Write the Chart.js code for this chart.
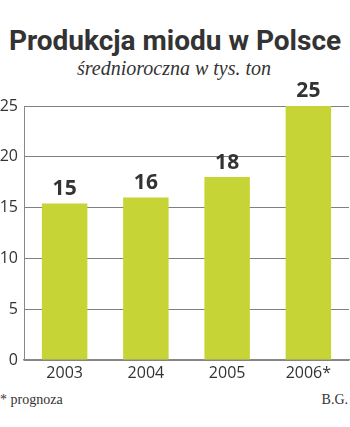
<!DOCTYPE html>
<html>
<head>
<meta charset="utf-8">
<script src="https://cdn.jsdelivr.net/npm/chart.js@4.4.1/dist/chart.umd.min.js"></script>
<style>
  html, body { margin: 0; padding: 0; background: #fff; }
  body { width: 350px; height: 427px; position: relative; overflow: hidden; color: #333; }
  #title { position: absolute; left: 0; top: 24px; width: 350px; text-align: center;
    font: bold 28px Roboto, sans-serif; color: #333; white-space: nowrap; }
  #subtitle { position: absolute; left: 0; top: 57px; width: 348px; text-align: center;
    font: italic 20px "Liberation Serif", serif; color: #333; white-space: nowrap; }
  #wrap { position: absolute; left: 0; top: 80px; width: 350px; height: 310px; }
  .note { position: absolute; top: 392px; font: 14px "Liberation Serif", serif; color: #333; }
</style>
</head>
<body>
<div id="title">Produkcja miodu w Polsce</div>
<div id="subtitle">średnioroczna w tys. ton</div>
<div id="wrap"><canvas id="honey"></canvas></div>
<div class="note" style="left:0">* prognoza</div>
<div class="note" style="right:2px">B.G.</div>
<script>
// Data
const years = ["2003", "2004", "2005", "2006*"];
const production = [15.4, 16, 18, 25];
const shownLabels = ["15", "16", "18", "25"];
const yTicks = [0, 5, 10, 15, 20, 25];

// Draw the value above each bar
const barLabels = {
  id: "barLabels",
  afterDatasetsDraw(chart) {
    const ctx = chart.ctx;
    const meta = chart.getDatasetMeta(0);
    ctx.save();
    ctx.font = "bold 21px 'Open Sans', sans-serif";
    ctx.fillStyle = "#333";
    ctx.textAlign = "center";
    ctx.textBaseline = "bottom";
    meta.data.forEach((bar, i) => {
      ctx.fillText(shownLabels[i], bar.x, bar.y - 4);
    });
    ctx.restore();
  },
};

const ctxHoney = document.getElementById("honey").getContext("2d");

const honey = new Chart(ctxHoney, {
  type: "bar",
  data: {
    labels: years,
    datasets: [
      {
        data: production,
        backgroundColor: "#c6d535",
        barPercentage: 0.56,
        categoryPercentage: 1,
      },
    ],
  },
  options: {
    responsive: true,
    maintainAspectRatio: false,
    animation: false,
    layout: { padding: { top: 26, right: 1, left: 0, bottom: 0 } },
    plugins: {
      legend: { display: false },
      tooltip: { enabled: false },
    },
    scales: {
      x: {
        grid: { display: false, drawTicks: false },
        border: { color: "#888", width: 1.5 },
        ticks: {
          color: "#333",
          font: { family: "'Open Sans', sans-serif", size: 16 },
          padding: 4,
        },
        afterFit(scale) {
          scale.height = 30;
        },
      },
      y: {
        min: 0,
        max: 25,
        afterBuildTicks(scale) {
          scale.ticks = yTicks.map((v) => ({ value: v }));
        },
        grid: { color: "#808080", lineWidth: 1, drawTicks: false },
        border: { color: "#888", width: 1 },
        ticks: {
          color: "#333",
          font: { family: "'Open Sans', sans-serif", size: 16 },
          padding: 6,
        },
        afterFit(scale) {
          scale.width = 24;
        },
      },
    },
  },
  plugins: [barLabels],
});
</script>
</body>
</html>
